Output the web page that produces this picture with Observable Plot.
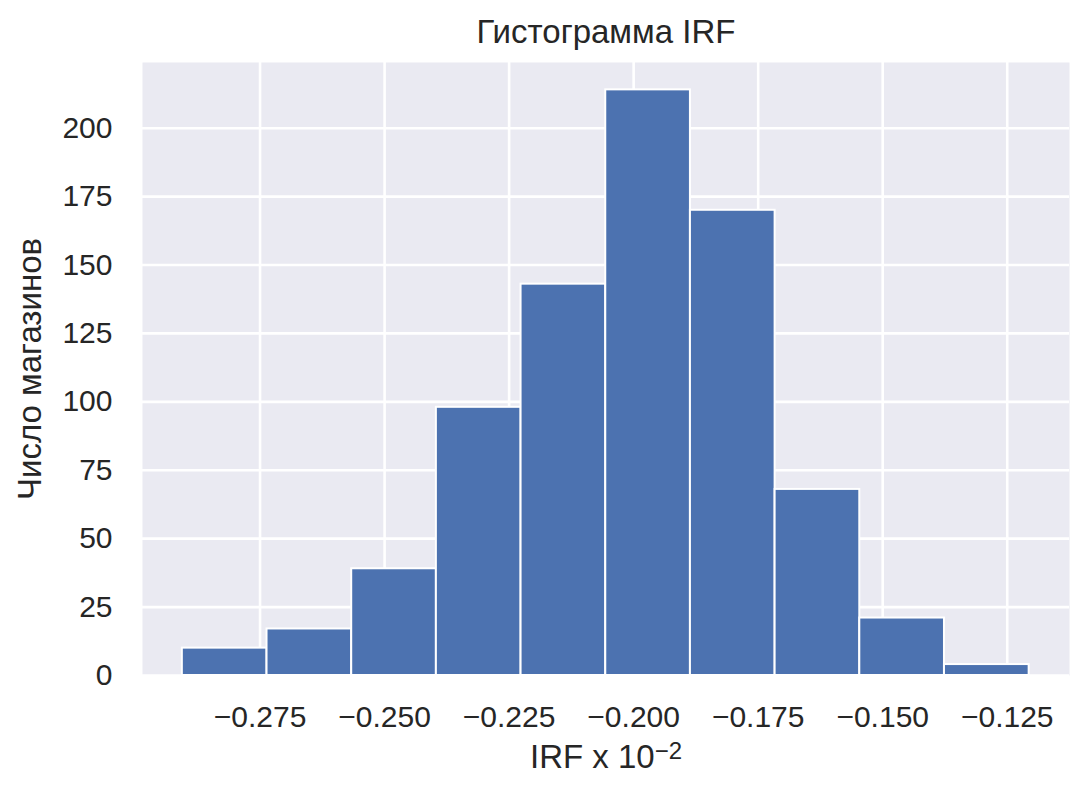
<!DOCTYPE html>
<html>
<head>
<meta charset="utf-8">
<script src="https://cdn.jsdelivr.net/npm/d3@7"></script>
<script src="https://cdn.jsdelivr.net/npm/@observablehq/plot@0.6"></script>
<style>
  html, body { margin: 0; padding: 0; background: #ffffff; }
  #chart { width: 1089px; height: 797px; }
</style>
</head>
<body>
<div id="chart"></div>
<script>
// Bin edges (IRF x 10^-2)
const binEdges = [-0.2906, -0.2736, -0.2566, -0.2396, -0.2226, -0.2056, -0.1886, -0.1716, -0.1546, -0.1376, -0.1206];
// Counts per bin
const binCounts = [10, 17, 39, 98, 143, 214, 170, 68, 21, 4];
// Tick values
const xTicks = [-0.275, -0.250, -0.225, -0.200, -0.175, -0.150, -0.125];
const yTicks = [0, 25, 50, 75, 100, 125, 150, 175, 200];
const titleText = "Гистограмма IRF";
const xLabelText = "IRF x 10";
const xLabelSup = "−2";
const yLabelText = "Число магазинов";

const bins = binCounts.map((c, i) => ({x1: binEdges[i], x2: binEdges[i + 1], count: c}));

const FONT = "'Liberation Sans', Arial, sans-serif";
const TEXT = "#262626";

const chart = Plot.plot({
  width: 1089,
  height: 797,
  marginLeft: 142,
  marginRight: 20,
  marginTop: 62,
  marginBottom: 122,
  style: {background: "#ffffff", fontFamily: FONT, color: TEXT, overflow: "visible"},
  x: {domain: [-0.2986, -0.1125]},
  y: {domain: [0, 224]},
  marks: [
    Plot.frame({fill: "#EAEAF2", stroke: null}),
    Plot.gridX(xTicks, {stroke: "#ffffff", strokeOpacity: 1, strokeWidth: 2.6}),
    Plot.gridY(yTicks, {stroke: "#ffffff", strokeOpacity: 1, strokeWidth: 2.6}),
    Plot.rectY(bins, {x1: "x1", x2: "x2", y: "count", fill: "#4C72B0", stroke: "#ffffff", strokeWidth: 2, inset: 0}),
    Plot.axisX(xTicks, {tickSize: 0, tickPadding: 30, fontSize: 30, label: null, tickFormat: d3.format(".3f"), fill: TEXT}),
    Plot.axisY(yTicks, {tickSize: 0, tickPadding: 30, fontSize: 30, label: null, fill: TEXT}),
    Plot.text([titleText], {frameAnchor: "top", dy: -30, fontSize: 33, fill: TEXT, lineAnchor: "middle"}),
    Plot.text([xLabelText], {frameAnchor: "bottom", dy: 82, fontSize: 33, fill: TEXT, lineAnchor: "middle", className: "xlab"}),
    Plot.text([yLabelText], {frameAnchor: "left", dx: -112, rotate: -90, fontSize: 33, fill: TEXT, lineAnchor: "middle", textAnchor: "middle"})
  ]
});

document.getElementById("chart").appendChild(chart);

// add superscript to x label
const xl = d3.select(chart).select("g.xlab text");
if (!xl.empty()) {
  const base = xl.text();
  xl.text(null);
  xl.append("tspan").text(base);
  xl.append("tspan").attr("dy", "-0.36em").attr("font-size", 24).text(xLabelSup);
}
</script>
</body>
</html>
